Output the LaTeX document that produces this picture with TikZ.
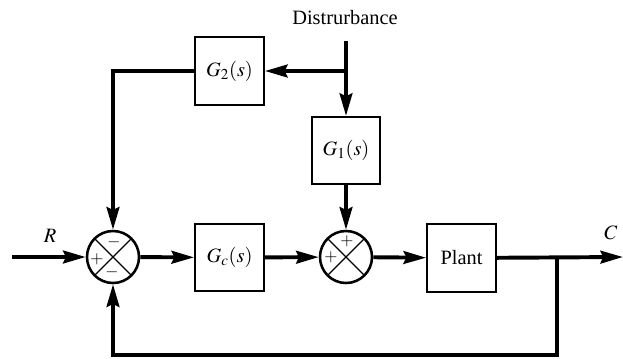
\documentclass[tikz,border=0pt]{standalone}
\usepackage{mathptmx}
\usepackage{fontspec}
\setmainfont{Liberation Serif}
\usetikzlibrary{arrows.meta}

\begin{document}
\begin{tikzpicture}[x=0.025cm,y=-0.025cm,
	font=\fontsize{14.5}{17}\selectfont,
	block/.style={draw,line width=1.4pt,minimum width=1.72cm,minimum height=1.68cm,inner sep=0pt},
	sumnode/.style={draw,circle,line width=1.8pt,minimum size=1.3cm,inner sep=0pt,
		path picture={\draw[line width=0.8pt] (path picture bounding box.north west) -- (path picture bounding box.south east)
			(path picture bounding box.north east) -- (path picture bounding box.south west);}},
	sig/.style={line width=2.8pt,-{Stealth[length=16pt,width=9pt,inset=2pt]}},
	wire/.style={line width=2.8pt},
	sign/.style={font=\fontsize{12}{12}\selectfont,inner sep=0pt}]
	\useasboundingbox (0,0) rectangle (623,358);
	% blocks and summing points
	\node[sumnode] (s1) at (113,257) {};
	\node[block] (gc) at (229.5,257.5) {$G_c(s)$};
	\node[sumnode] (s2) at (346,257) {};
	\node[block] (plant) at (461.5,258) {Plant};
	\node[block] (g1) at (346,150.5) {$G_1(s)$};
	\node[block] (g2) at (229.5,71) {$G_2(s)$};
	% signs
	\node[sign] (s1t) at (114,242) {$-$};
	\node[sign] (s1l) at (97,259) {$+$};
	\node[sign] (s1b) at (112,272) {$-$};
	\node[sign] (s2t) at (347,241) {$+$};
	\node[sign] (s2l) at (331,257) {$+$};
	% labels
	\node (rlab) at (50,236) {$R$};
	\node (clab) at (611,233) {$C$};
	\node (dlab) at (345,18) {Distrurbance};
	% points on the wires
	\coordinate (rin) at (12,257);
	\coordinate (cout) at (623,257);
	\coordinate (br) at (557,257);
	\coordinate (fbr) at (557,355);
	\coordinate (fbl) at (113,355);
	\coordinate (dtop) at (346,41);
	\coordinate (dbr) at (346,71);
	% forward path
	\draw[sig] (rin) -- (s1);
	\draw[sig] (s1) -- (gc);
	\draw[sig] (gc) -- (s2);
	\draw[sig] (s2) -- (plant);
	\draw[sig] (plant) -- (cout);
	% feedback
	\draw[sig] (br) -- (fbr) -- (fbl) -- (s1);
	% disturbance
	\draw[wire] (dtop) -- (dbr);
	\draw[sig] (dbr) -- (g1);
	\draw[sig] (dbr) -- (g2);
	\draw[sig] (g1) -- (s2);
	\draw[sig] (g2) -| (s1);
\end{tikzpicture}
\end{document}
